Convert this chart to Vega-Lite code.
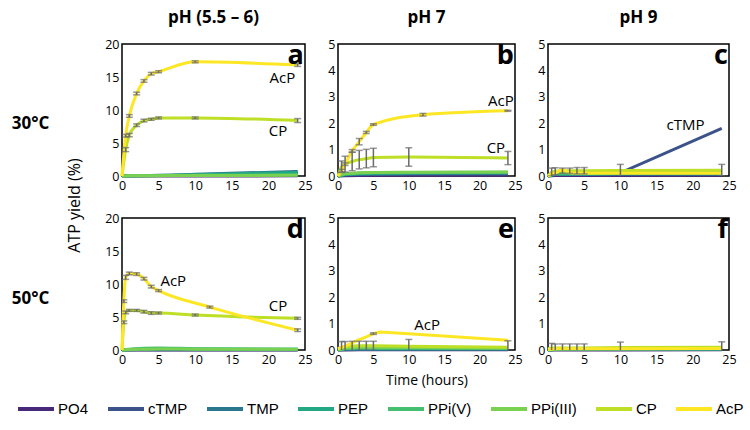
{
"$schema":"https://vega.github.io/schema/vega-lite/v6.json",
"padding":{"left":10,"top":8,"right":5,"bottom":5},
"config":{
 "font":"Open Sans",
 "view":{"stroke":"#000","strokeWidth":1.5},
 "axis":{"grid":false,"ticks":false,"domain":false,"labelFontSize":12.5,"labelColor":"#000","labelPadding":3,"titleFontSize":14,"titleFontWeight":"normal","titleColor":"#000","labelFlush":false},
 "title":{"fontSize":17,"fontWeight":"bold","color":"#000","offset":11,"frame":"group","anchor":"middle"},
 "legend":{"orient":"none","legendX":-106,"legendY":345,"direction":"horizontal","gridAlign":"none","symbolType":"stroke","symbolStrokeWidth":4,"symbolSize":1296,"labelFont":"Liberation Sans","labelFontSize":15,"labelColor":"#000","columnPadding":11,"labelOffset":2}
},
"datasets":{
"series":[
{"p":"a","s":"PO4","t":0,"v":0},{"p":"a","s":"PO4","t":1,"v":0},{"p":"a","s":"PO4","t":3,"v":0},{"p":"a","s":"PO4","t":5,"v":0},{"p":"a","s":"PO4","t":10,"v":0.01},{"p":"a","s":"PO4","t":24,"v":0.02},
{"p":"a","s":"cTMP","t":0,"v":0},{"p":"a","s":"cTMP","t":1,"v":0.02},{"p":"a","s":"cTMP","t":3,"v":0.05},{"p":"a","s":"cTMP","t":5,"v":0.07},{"p":"a","s":"cTMP","t":10,"v":0.15},{"p":"a","s":"cTMP","t":24,"v":0.35},
{"p":"a","s":"TMP","t":0,"v":0},{"p":"a","s":"TMP","t":1,"v":0.03},{"p":"a","s":"TMP","t":3,"v":0.07},{"p":"a","s":"TMP","t":5,"v":0.1},{"p":"a","s":"TMP","t":10,"v":0.25},{"p":"a","s":"TMP","t":24,"v":0.7},
{"p":"a","s":"PEP","t":0,"v":0},{"p":"a","s":"PEP","t":1,"v":0.03},{"p":"a","s":"PEP","t":3,"v":0.06},{"p":"a","s":"PEP","t":5,"v":0.09},{"p":"a","s":"PEP","t":10,"v":0.2},{"p":"a","s":"PEP","t":24,"v":0.55},
{"p":"a","s":"PPi(V)","t":0,"v":0},{"p":"a","s":"PPi(V)","t":1,"v":0.02},{"p":"a","s":"PPi(V)","t":3,"v":0.04},{"p":"a","s":"PPi(V)","t":5,"v":0.06},{"p":"a","s":"PPi(V)","t":10,"v":0.1},{"p":"a","s":"PPi(V)","t":24,"v":0.2},
{"p":"a","s":"PPi(III)","t":0,"v":0},{"p":"a","s":"PPi(III)","t":1,"v":0.02},{"p":"a","s":"PPi(III)","t":3,"v":0.04},{"p":"a","s":"PPi(III)","t":5,"v":0.05},{"p":"a","s":"PPi(III)","t":10,"v":0.08},{"p":"a","s":"PPi(III)","t":24,"v":0.1},
{"p":"a","s":"CP","t":0,"v":0,"e":0},{"p":"a","s":"CP","t":0.5,"v":4.0,"e":0.3},{"p":"a","s":"CP","t":1,"v":6.2,"e":0.25},{"p":"a","s":"CP","t":2,"v":7.7,"e":0.2},{"p":"a","s":"CP","t":3,"v":8.4,"e":0.2},{"p":"a","s":"CP","t":4,"v":8.6,"e":0.15},{"p":"a","s":"CP","t":5,"v":8.8,"e":0.15},{"p":"a","s":"CP","t":10,"v":8.8,"e":0.15},{"p":"a","s":"CP","t":24,"v":8.4,"e":0.3},
{"p":"a","s":"AcP","t":0,"v":0,"e":0},{"p":"a","s":"AcP","t":0.5,"v":6.1,"e":0.2},{"p":"a","s":"AcP","t":1,"v":9.1,"e":0.2},{"p":"a","s":"AcP","t":2,"v":12.5,"e":0.2},{"p":"a","s":"AcP","t":3,"v":14.4,"e":0.2},{"p":"a","s":"AcP","t":4,"v":15.5,"e":0.2},{"p":"a","s":"AcP","t":5,"v":15.8,"e":0.15},{"p":"a","s":"AcP","t":10,"v":17.3,"e":0.15},{"p":"a","s":"AcP","t":24,"v":16.8,"e":0.2},

{"p":"b","s":"PO4","t":0,"v":0},{"p":"b","s":"PO4","t":1,"v":0.01},{"p":"b","s":"PO4","t":3,"v":0.02},{"p":"b","s":"PO4","t":5,"v":0.02},{"p":"b","s":"PO4","t":10,"v":0.03},{"p":"b","s":"PO4","t":24,"v":0.03},
{"p":"b","s":"cTMP","t":0,"v":0},{"p":"b","s":"cTMP","t":1,"v":0.04},{"p":"b","s":"cTMP","t":3,"v":0.05},{"p":"b","s":"cTMP","t":5,"v":0.06},{"p":"b","s":"cTMP","t":10,"v":0.07},{"p":"b","s":"cTMP","t":24,"v":0.08},
{"p":"b","s":"TMP","t":0,"v":0},{"p":"b","s":"TMP","t":1,"v":0.05},{"p":"b","s":"TMP","t":3,"v":0.07},{"p":"b","s":"TMP","t":5,"v":0.08},{"p":"b","s":"TMP","t":10,"v":0.09},{"p":"b","s":"TMP","t":24,"v":0.1},
{"p":"b","s":"PEP","t":0,"v":0},{"p":"b","s":"PEP","t":1,"v":0.06},{"p":"b","s":"PEP","t":3,"v":0.09},{"p":"b","s":"PEP","t":5,"v":0.1},{"p":"b","s":"PEP","t":10,"v":0.11},{"p":"b","s":"PEP","t":24,"v":0.12},
{"p":"b","s":"PPi(V)","t":0,"v":0},{"p":"b","s":"PPi(V)","t":1,"v":0.08},{"p":"b","s":"PPi(V)","t":3,"v":0.11},{"p":"b","s":"PPi(V)","t":5,"v":0.12},{"p":"b","s":"PPi(V)","t":10,"v":0.13},{"p":"b","s":"PPi(V)","t":24,"v":0.14},
{"p":"b","s":"PPi(III)","t":0,"v":0},{"p":"b","s":"PPi(III)","t":1,"v":0.09},{"p":"b","s":"PPi(III)","t":3,"v":0.12},{"p":"b","s":"PPi(III)","t":5,"v":0.13},{"p":"b","s":"PPi(III)","t":10,"v":0.14},{"p":"b","s":"PPi(III)","t":24,"v":0.15},
{"p":"b","s":"CP","t":0,"v":0,"e":0},{"p":"b","s":"CP","t":0.5,"v":0.35,"e":0.22},{"p":"b","s":"CP","t":1,"v":0.45,"e":0.3},{"p":"b","s":"CP","t":2,"v":0.55,"e":0.35},{"p":"b","s":"CP","t":3,"v":0.62,"e":0.35},{"p":"b","s":"CP","t":4,"v":0.66,"e":0.35},{"p":"b","s":"CP","t":5,"v":0.7,"e":0.35},{"p":"b","s":"CP","t":10,"v":0.72,"e":0.35},{"p":"b","s":"CP","t":24,"v":0.68,"e":0.25},
{"p":"b","s":"AcP","t":0,"v":0,"e":0},{"p":"b","s":"AcP","t":0.5,"v":0.2,"e":0.05},{"p":"b","s":"AcP","t":1,"v":0.45,"e":0.05},{"p":"b","s":"AcP","t":2,"v":0.95,"e":0.05},{"p":"b","s":"AcP","t":3,"v":1.3,"e":0.12},{"p":"b","s":"AcP","t":4,"v":1.65,"e":0.04},{"p":"b","s":"AcP","t":5,"v":1.95,"e":0.03},{"p":"b","s":"AcP","t":12,"v":2.32,"e":0.05},{"p":"b","s":"AcP","t":24,"v":2.47,"e":0.02},

{"p":"c","s":"PO4","t":0,"v":0},{"p":"c","s":"PO4","t":1,"v":0.02},{"p":"c","s":"PO4","t":3,"v":0.02},{"p":"c","s":"PO4","t":5,"v":0.02},{"p":"c","s":"PO4","t":10,"v":0.02},{"p":"c","s":"PO4","t":24,"v":0.03},
{"p":"c","s":"cTMP","t":0,"v":0.05},{"p":"c","s":"cTMP","t":1,"v":0.12},{"p":"c","s":"cTMP","t":3,"v":0.1},{"p":"c","s":"cTMP","t":5,"v":0.1},{"p":"c","s":"cTMP","t":10,"v":0.12},{"p":"c","s":"cTMP","t":24,"v":1.8},
{"p":"c","s":"TMP","t":0,"v":0},{"p":"c","s":"TMP","t":1,"v":0.06},{"p":"c","s":"TMP","t":3,"v":0.06},{"p":"c","s":"TMP","t":5,"v":0.06},{"p":"c","s":"TMP","t":10,"v":0.07},{"p":"c","s":"TMP","t":24,"v":0.07},
{"p":"c","s":"PEP","t":0,"v":0},{"p":"c","s":"PEP","t":1,"v":0.07},{"p":"c","s":"PEP","t":3,"v":0.08},{"p":"c","s":"PEP","t":5,"v":0.08},{"p":"c","s":"PEP","t":10,"v":0.09},{"p":"c","s":"PEP","t":24,"v":0.1},
{"p":"c","s":"PPi(V)","t":0,"v":0},{"p":"c","s":"PPi(V)","t":1,"v":0.1},{"p":"c","s":"PPi(V)","t":3,"v":0.1},{"p":"c","s":"PPi(V)","t":5,"v":0.1},{"p":"c","s":"PPi(V)","t":10,"v":0.11},{"p":"c","s":"PPi(V)","t":24,"v":0.12},
{"p":"c","s":"PPi(III)","t":0,"v":0},{"p":"c","s":"PPi(III)","t":1,"v":0.12},{"p":"c","s":"PPi(III)","t":3,"v":0.13},{"p":"c","s":"PPi(III)","t":5,"v":0.13},{"p":"c","s":"PPi(III)","t":10,"v":0.14},{"p":"c","s":"PPi(III)","t":24,"v":0.15},
{"p":"c","s":"CP","t":0,"v":0,"e":0},{"p":"c","s":"CP","t":0.5,"v":0.15,"e":0.15},{"p":"c","s":"CP","t":1,"v":0.18,"e":0.13},{"p":"c","s":"CP","t":2,"v":0.2,"e":0.1},{"p":"c","s":"CP","t":3,"v":0.2,"e":0.1},{"p":"c","s":"CP","t":4,"v":0.2,"e":0.12},{"p":"c","s":"CP","t":5,"v":0.2,"e":0.12},{"p":"c","s":"CP","t":10,"v":0.21,"e":0.23},{"p":"c","s":"CP","t":24,"v":0.22,"e":0.22},
{"p":"c","s":"AcP","t":0,"v":0},{"p":"c","s":"AcP","t":0.5,"v":0.08},{"p":"c","s":"AcP","t":1,"v":0.12},{"p":"c","s":"AcP","t":2,"v":0.25},{"p":"c","s":"AcP","t":3,"v":0.12},{"p":"c","s":"AcP","t":4,"v":0.1},{"p":"c","s":"AcP","t":5,"v":0.1},{"p":"c","s":"AcP","t":10,"v":0.1},{"p":"c","s":"AcP","t":24,"v":0.1},

{"p":"d","s":"PO4","t":0,"v":0},{"p":"d","s":"PO4","t":1,"v":0},{"p":"d","s":"PO4","t":3,"v":0},{"p":"d","s":"PO4","t":5,"v":0},{"p":"d","s":"PO4","t":10,"v":0},{"p":"d","s":"PO4","t":24,"v":0},
{"p":"d","s":"cTMP","t":0,"v":0},{"p":"d","s":"cTMP","t":1,"v":0.03},{"p":"d","s":"cTMP","t":3,"v":0.05},{"p":"d","s":"cTMP","t":5,"v":0.05},{"p":"d","s":"cTMP","t":10,"v":0.05},{"p":"d","s":"cTMP","t":24,"v":0.05},
{"p":"d","s":"TMP","t":0,"v":0},{"p":"d","s":"TMP","t":1,"v":0.05},{"p":"d","s":"TMP","t":3,"v":0.1},{"p":"d","s":"TMP","t":5,"v":0.1},{"p":"d","s":"TMP","t":10,"v":0.08},{"p":"d","s":"TMP","t":24,"v":0.06},
{"p":"d","s":"PEP","t":0,"v":0},{"p":"d","s":"PEP","t":1,"v":0.08},{"p":"d","s":"PEP","t":3,"v":0.15},{"p":"d","s":"PEP","t":5,"v":0.2},{"p":"d","s":"PEP","t":10,"v":0.15},{"p":"d","s":"PEP","t":24,"v":0.1},
{"p":"d","s":"PPi(V)","t":0,"v":0},{"p":"d","s":"PPi(V)","t":1,"v":0.12},{"p":"d","s":"PPi(V)","t":3,"v":0.25},{"p":"d","s":"PPi(V)","t":5,"v":0.3},{"p":"d","s":"PPi(V)","t":10,"v":0.2},{"p":"d","s":"PPi(V)","t":24,"v":0.12},
{"p":"d","s":"PPi(III)","t":0,"v":0},{"p":"d","s":"PPi(III)","t":1,"v":0.08},{"p":"d","s":"PPi(III)","t":3,"v":0.12},{"p":"d","s":"PPi(III)","t":5,"v":0.15},{"p":"d","s":"PPi(III)","t":10,"v":0.12},{"p":"d","s":"PPi(III)","t":24,"v":0.1},
{"p":"d","s":"CP","t":0,"v":0,"e":0},{"p":"d","s":"CP","t":0.25,"v":4.2,"e":0.2},{"p":"d","s":"CP","t":0.5,"v":5.7,"e":0.2},{"p":"d","s":"CP","t":1,"v":6.0,"e":0.15},{"p":"d","s":"CP","t":2,"v":6.0,"e":0.15},{"p":"d","s":"CP","t":3,"v":5.8,"e":0.2},{"p":"d","s":"CP","t":4,"v":5.6,"e":0.2},{"p":"d","s":"CP","t":5,"v":5.6,"e":0.15},{"p":"d","s":"CP","t":10,"v":5.3,"e":0.15},{"p":"d","s":"CP","t":24,"v":4.8,"e":0.15},
{"p":"d","s":"AcP","t":0,"v":0,"e":0},{"p":"d","s":"AcP","t":0.25,"v":7.4,"e":0.2},{"p":"d","s":"AcP","t":0.5,"v":11.0,"e":0.3},{"p":"d","s":"AcP","t":1,"v":11.6,"e":0.2},{"p":"d","s":"AcP","t":2,"v":11.5,"e":0.2},{"p":"d","s":"AcP","t":3,"v":10.8,"e":0.2},{"p":"d","s":"AcP","t":4,"v":9.6,"e":0.2},{"p":"d","s":"AcP","t":5,"v":9.0,"e":0.15},{"p":"d","s":"AcP","t":12,"v":6.5,"e":0.15},{"p":"d","s":"AcP","t":24,"v":3.0,"e":0.2},

{"p":"e","s":"PO4","t":0,"v":0},{"p":"e","s":"PO4","t":1,"v":0},{"p":"e","s":"PO4","t":3,"v":0.01},{"p":"e","s":"PO4","t":5,"v":0.01},{"p":"e","s":"PO4","t":10,"v":0.01},{"p":"e","s":"PO4","t":24,"v":0.01},
{"p":"e","s":"cTMP","t":0,"v":0},{"p":"e","s":"cTMP","t":1,"v":0.03},{"p":"e","s":"cTMP","t":3,"v":0.03},{"p":"e","s":"cTMP","t":5,"v":0.03},{"p":"e","s":"cTMP","t":10,"v":0.03},{"p":"e","s":"cTMP","t":24,"v":0.03},
{"p":"e","s":"TMP","t":0,"v":0},{"p":"e","s":"TMP","t":1,"v":0.04},{"p":"e","s":"TMP","t":3,"v":0.04},{"p":"e","s":"TMP","t":5,"v":0.04},{"p":"e","s":"TMP","t":10,"v":0.04},{"p":"e","s":"TMP","t":24,"v":0.04},
{"p":"e","s":"PEP","t":0,"v":0},{"p":"e","s":"PEP","t":1,"v":0.05},{"p":"e","s":"PEP","t":3,"v":0.05},{"p":"e","s":"PEP","t":5,"v":0.05},{"p":"e","s":"PEP","t":10,"v":0.05},{"p":"e","s":"PEP","t":24,"v":0.05},
{"p":"e","s":"PPi(V)","t":0,"v":0},{"p":"e","s":"PPi(V)","t":1,"v":0.06},{"p":"e","s":"PPi(V)","t":3,"v":0.07},{"p":"e","s":"PPi(V)","t":5,"v":0.07},{"p":"e","s":"PPi(V)","t":10,"v":0.07},{"p":"e","s":"PPi(V)","t":24,"v":0.06},
{"p":"e","s":"PPi(III)","t":0,"v":0},{"p":"e","s":"PPi(III)","t":1,"v":0.08},{"p":"e","s":"PPi(III)","t":3,"v":0.1},{"p":"e","s":"PPi(III)","t":5,"v":0.1},{"p":"e","s":"PPi(III)","t":10,"v":0.09},{"p":"e","s":"PPi(III)","t":24,"v":0.08},
{"p":"e","s":"CP","t":0,"v":0.05,"e":0},{"p":"e","s":"CP","t":0.5,"v":0.1,"e":0.22},{"p":"e","s":"CP","t":1,"v":0.12,"e":0.2},{"p":"e","s":"CP","t":2,"v":0.15,"e":0.18},{"p":"e","s":"CP","t":3,"v":0.16,"e":0.17},{"p":"e","s":"CP","t":4,"v":0.16,"e":0.17},{"p":"e","s":"CP","t":5,"v":0.16,"e":0.17},{"p":"e","s":"CP","t":10,"v":0.14,"e":0.26},{"p":"e","s":"CP","t":24,"v":0.1,"e":0.25},
{"p":"e","s":"AcP","t":0,"v":0.05},{"p":"e","s":"AcP","t":1,"v":0.15},{"p":"e","s":"AcP","t":2,"v":0.27},{"p":"e","s":"AcP","t":3,"v":0.39},{"p":"e","s":"AcP","t":4,"v":0.5},{"p":"e","s":"AcP","t":5,"v":0.62,"e":0.03},{"p":"e","s":"AcP","t":6,"v":0.68},{"p":"e","s":"AcP","t":10,"v":0.62},{"p":"e","s":"AcP","t":24,"v":0.37},

{"p":"f","s":"PO4","t":0,"v":0},{"p":"f","s":"PO4","t":1,"v":0},{"p":"f","s":"PO4","t":3,"v":0},{"p":"f","s":"PO4","t":5,"v":0},{"p":"f","s":"PO4","t":10,"v":0},{"p":"f","s":"PO4","t":24,"v":0.01},
{"p":"f","s":"cTMP","t":0,"v":0},{"p":"f","s":"cTMP","t":1,"v":0.02},{"p":"f","s":"cTMP","t":3,"v":0.02},{"p":"f","s":"cTMP","t":5,"v":0.02},{"p":"f","s":"cTMP","t":10,"v":0.02},{"p":"f","s":"cTMP","t":24,"v":0.02},
{"p":"f","s":"TMP","t":0,"v":0},{"p":"f","s":"TMP","t":1,"v":0.03},{"p":"f","s":"TMP","t":3,"v":0.03},{"p":"f","s":"TMP","t":5,"v":0.03},{"p":"f","s":"TMP","t":10,"v":0.03},{"p":"f","s":"TMP","t":24,"v":0.03},
{"p":"f","s":"PEP","t":0,"v":0},{"p":"f","s":"PEP","t":1,"v":0.03},{"p":"f","s":"PEP","t":3,"v":0.04},{"p":"f","s":"PEP","t":5,"v":0.04},{"p":"f","s":"PEP","t":10,"v":0.04},{"p":"f","s":"PEP","t":24,"v":0.04},
{"p":"f","s":"PPi(V)","t":0,"v":0},{"p":"f","s":"PPi(V)","t":1,"v":0.04},{"p":"f","s":"PPi(V)","t":3,"v":0.05},{"p":"f","s":"PPi(V)","t":5,"v":0.05},{"p":"f","s":"PPi(V)","t":10,"v":0.05},{"p":"f","s":"PPi(V)","t":24,"v":0.05},
{"p":"f","s":"PPi(III)","t":0,"v":0},{"p":"f","s":"PPi(III)","t":1,"v":0.05},{"p":"f","s":"PPi(III)","t":3,"v":0.06},{"p":"f","s":"PPi(III)","t":5,"v":0.06},{"p":"f","s":"PPi(III)","t":10,"v":0.06},{"p":"f","s":"PPi(III)","t":24,"v":0.06},
{"p":"f","s":"CP","t":0,"v":0.05,"e":0},{"p":"f","s":"CP","t":0.5,"v":0.08,"e":0.17},{"p":"f","s":"CP","t":1,"v":0.08,"e":0.15},{"p":"f","s":"CP","t":2,"v":0.08,"e":0.15},{"p":"f","s":"CP","t":3,"v":0.08,"e":0.15},{"p":"f","s":"CP","t":4,"v":0.08,"e":0.15},{"p":"f","s":"CP","t":5,"v":0.08,"e":0.15},{"p":"f","s":"CP","t":10,"v":0.09,"e":0.21},{"p":"f","s":"CP","t":24,"v":0.1,"e":0.21},
{"p":"f","s":"AcP","t":0,"v":0.02},{"p":"f","s":"AcP","t":0.5,"v":0.04},{"p":"f","s":"AcP","t":1,"v":0.05},{"p":"f","s":"AcP","t":2,"v":0.05},{"p":"f","s":"AcP","t":3,"v":0.05},{"p":"f","s":"AcP","t":4,"v":0.05},{"p":"f","s":"AcP","t":5,"v":0.05},{"p":"f","s":"AcP","t":10,"v":0.05},{"p":"f","s":"AcP","t":24,"v":0.06}
],
"notes":[
{"p":"a","k":"lab","txt":"AcP","t":21.9,"v":14.8},{"p":"a","k":"lab","txt":"CP","t":21.3,"v":6.8},
{"p":"b","k":"lab","txt":"AcP","t":23.0,"v":2.84},{"p":"b","k":"lab","txt":"CP","t":22.3,"v":1.06},
{"p":"c","k":"lab","txt":"cTMP","t":19.0,"v":1.93},
{"p":"d","k":"lab","txt":"AcP","t":7.0,"v":10.45},{"p":"d","k":"lab","txt":"CP","t":21.3,"v":6.7},
{"p":"e","k":"lab","txt":"AcP","t":12.6,"v":0.95},
{"p":"a","k":"let","txt":"a","t":24.85,"v":16.97},{"p":"b","k":"let","txt":"b","t":24.85,"v":4.24},{"p":"c","k":"let","txt":"c","t":24.85,"v":4.24},
{"p":"d","k":"let","txt":"d","t":24.85,"v":16.97},{"p":"e","k":"let","txt":"e","t":24.85,"v":4.24},{"p":"f","k":"let","txt":"f","t":24.85,"v":4.24}
]
},
"columns":3,
"align":"each",
"bounds":"flush",
"spacing":{"row":42,"column":33},
"resolve":{"scale":{"color":"shared"},"legend":{"color":"shared"}},
"concat":[
{"width":183,"height":132,"title":"pH (5.5 – 6)",
 "encoding":{"x":{"field":"t","type":"quantitative","scale":{"domain":[0,25],"nice":false},"axis":{"values":[0,5,10,15,20,25],"title":null}}},
 "layer":[
  {"data":{"name":"series"},"transform":[{"filter":"datum.p==='a'"}],
   "mark":{"type":"line","interpolate":"monotone","strokeWidth":3},
   "encoding":{
    "y":{"field":"v","type":"quantitative","scale":{"domain":[0,20],"nice":false},"axis":{"orient":"left","values":[0,5,10,15,20],"title":"ATP yield (%)","titleFontSize":16,"titleX":-40,"titleY":161}},
    "color":{"field":"s","type":"nominal","scale":{"domain":["PO4","cTMP","TMP","PEP","PPi(V)","PPi(III)","CP","AcP"],"range":["#482878","#3b528b","#2a788e","#22a884","#44bf70","#7ad151","#bddf26","#fde725"]},"legend":{"title":null}}}},
  {"data":{"name":"series"},"transform":[{"filter":"datum.p==='a' && datum.e>0"}],
   "mark":{"type":"errorbar","ticks":{"size":7},"thickness":1.5,"color":"#6b6b6b","clip":true},
   "encoding":{"y":{"field":"v","type":"quantitative","axis":null},"yError":{"field":"e"}}},
  {"data":{"name":"notes"},"transform":[{"filter":"datum.p==='a' && datum.k==='lab'"}],
   "mark":{"type":"text","fontSize":15,"color":"#000"},
   "encoding":{"y":{"field":"v","type":"quantitative","axis":{"orient":"right","labels":false,"title":"30°C","titleAngle":0,"titleX":-275,"titleY":79,"titleAlign":"center","titleBaseline":"middle","titleFontSize":17,"titleFontWeight":"bold"}},"text":{"field":"txt"}}},
  {"data":{"name":"notes"},"transform":[{"filter":"datum.p==='a' && datum.k==='let'"}],
   "mark":{"type":"text","fontSize":27,"fontWeight":"bold","align":"right","baseline":"alphabetic","color":"#000"},
   "encoding":{"y":{"field":"v","type":"quantitative","axis":null},"text":{"field":"txt"}}}
 ]},
{"width":177,"height":132,"title":"pH 7",
 "encoding":{
  "x":{"field":"t","type":"quantitative","scale":{"domain":[0,25],"nice":false},"axis":{"values":[0,5,10,15,20,25],"title":null}},
  "y":{"field":"v","type":"quantitative","scale":{"domain":[0,5],"nice":false},"axis":{"values":[0,1,2,3,4,5],"title":null}}},
 "layer":[
  {"data":{"name":"series"},"transform":[{"filter":"datum.p==='b'"}],
   "mark":{"type":"line","interpolate":"monotone","strokeWidth":3},
   "encoding":{"color":{"field":"s","type":"nominal","scale":{"domain":["PO4","cTMP","TMP","PEP","PPi(V)","PPi(III)","CP","AcP"],"range":["#482878","#3b528b","#2a788e","#22a884","#44bf70","#7ad151","#bddf26","#fde725"]},"legend":{"title":null}}}},
  {"data":{"name":"series"},"transform":[{"filter":"datum.p==='b' && datum.e>0"}],
   "mark":{"type":"errorbar","ticks":{"size":7},"thickness":1.5,"color":"#6b6b6b","clip":true},
   "encoding":{"yError":{"field":"e"}}},
  {"data":{"name":"notes"},"transform":[{"filter":"datum.p==='b' && datum.k==='lab'"}],
   "mark":{"type":"text","fontSize":15,"color":"#000"},
   "encoding":{"text":{"field":"txt"}}},
  {"data":{"name":"notes"},"transform":[{"filter":"datum.p==='b' && datum.k==='let'"}],
   "mark":{"type":"text","fontSize":27,"fontWeight":"bold","align":"right","baseline":"alphabetic","color":"#000"},
   "encoding":{"text":{"field":"txt"}}}
 ]},
{"width":181,"height":132,"title":"pH 9",
 "encoding":{
  "x":{"field":"t","type":"quantitative","scale":{"domain":[0,25],"nice":false},"axis":{"values":[0,5,10,15,20,25],"title":null}},
  "y":{"field":"v","type":"quantitative","scale":{"domain":[0,5],"nice":false},"axis":{"values":[0,1,2,3,4,5],"title":null}}},
 "layer":[
  {"data":{"name":"series"},"transform":[{"filter":"datum.p==='c'"}],
   "mark":{"type":"line","interpolate":"linear","strokeWidth":3},
   "encoding":{"color":{"field":"s","type":"nominal","scale":{"domain":["PO4","cTMP","TMP","PEP","PPi(V)","PPi(III)","CP","AcP"],"range":["#482878","#3b528b","#2a788e","#22a884","#44bf70","#7ad151","#bddf26","#fde725"]},"legend":{"title":null}}}},
  {"data":{"name":"series"},"transform":[{"filter":"datum.p==='c' && datum.e>0"}],
   "mark":{"type":"errorbar","ticks":{"size":7},"thickness":1.5,"color":"#6b6b6b","clip":true},
   "encoding":{"yError":{"field":"e"}}},
  {"data":{"name":"notes"},"transform":[{"filter":"datum.p==='c' && datum.k==='lab'"}],
   "mark":{"type":"text","fontSize":15,"color":"#000"},
   "encoding":{"text":{"field":"txt"}}},
  {"data":{"name":"notes"},"transform":[{"filter":"datum.p==='c' && datum.k==='let'"}],
   "mark":{"type":"text","fontSize":27,"fontWeight":"bold","align":"right","baseline":"alphabetic","color":"#000"},
   "encoding":{"text":{"field":"txt"}}}
 ]},
{"width":183,"height":132,
 "encoding":{
  "x":{"field":"t","type":"quantitative","scale":{"domain":[0,25],"nice":false},"axis":{"values":[0,5,10,15,20,25],"title":null}},
  "y":{"field":"v","type":"quantitative","scale":{"domain":[0,20],"nice":false},"axis":{"values":[0,5,10,15,20],"title":"50°C","titleAngle":0,"titleX":-92,"titleY":80,"titleAlign":"center","titleBaseline":"middle","titleFontSize":17,"titleFontWeight":"bold"}}},
 "layer":[
  {"data":{"name":"series"},"transform":[{"filter":"datum.p==='d'"}],
   "mark":{"type":"line","interpolate":"monotone","strokeWidth":3},
   "encoding":{"color":{"field":"s","type":"nominal","scale":{"domain":["PO4","cTMP","TMP","PEP","PPi(V)","PPi(III)","CP","AcP"],"range":["#482878","#3b528b","#2a788e","#22a884","#44bf70","#7ad151","#bddf26","#fde725"]},"legend":{"title":null}}}},
  {"data":{"name":"series"},"transform":[{"filter":"datum.p==='d' && datum.e>0"}],
   "mark":{"type":"errorbar","ticks":{"size":7},"thickness":1.5,"color":"#6b6b6b","clip":true},
   "encoding":{"yError":{"field":"e"}}},
  {"data":{"name":"notes"},"transform":[{"filter":"datum.p==='d' && datum.k==='lab'"}],
   "mark":{"type":"text","fontSize":15,"color":"#000"},
   "encoding":{"text":{"field":"txt"}}},
  {"data":{"name":"notes"},"transform":[{"filter":"datum.p==='d' && datum.k==='let'"}],
   "mark":{"type":"text","fontSize":27,"fontWeight":"bold","align":"right","baseline":"alphabetic","color":"#000"},
   "encoding":{"text":{"field":"txt"}}}
 ]},
{"width":177,"height":132,
 "encoding":{
  "x":{"field":"t","type":"quantitative","scale":{"domain":[0,25],"nice":false},"axis":{"values":[0,5,10,15,20,25],"title":"Time (hours)","titlePadding":8}},
  "y":{"field":"v","type":"quantitative","scale":{"domain":[0,5],"nice":false},"axis":{"values":[0,1,2,3,4,5],"title":null}}},
 "layer":[
  {"data":{"name":"series"},"transform":[{"filter":"datum.p==='e'"}],
   "mark":{"type":"line","interpolate":"linear","strokeWidth":3},
   "encoding":{"color":{"field":"s","type":"nominal","scale":{"domain":["PO4","cTMP","TMP","PEP","PPi(V)","PPi(III)","CP","AcP"],"range":["#482878","#3b528b","#2a788e","#22a884","#44bf70","#7ad151","#bddf26","#fde725"]},"legend":{"title":null}}}},
  {"data":{"name":"series"},"transform":[{"filter":"datum.p==='e' && datum.e>0"}],
   "mark":{"type":"errorbar","ticks":{"size":7},"thickness":1.5,"color":"#6b6b6b","clip":true},
   "encoding":{"yError":{"field":"e"}}},
  {"data":{"name":"notes"},"transform":[{"filter":"datum.p==='e' && datum.k==='lab'"}],
   "mark":{"type":"text","fontSize":15,"color":"#000"},
   "encoding":{"text":{"field":"txt"}}},
  {"data":{"name":"notes"},"transform":[{"filter":"datum.p==='e' && datum.k==='let'"}],
   "mark":{"type":"text","fontSize":27,"fontWeight":"bold","align":"right","baseline":"alphabetic","color":"#000"},
   "encoding":{"text":{"field":"txt"}}}
 ]},
{"width":181,"height":132,
 "encoding":{
  "x":{"field":"t","type":"quantitative","scale":{"domain":[0,25],"nice":false},"axis":{"values":[0,5,10,15,20,25],"title":null}},
  "y":{"field":"v","type":"quantitative","scale":{"domain":[0,5],"nice":false},"axis":{"values":[0,1,2,3,4,5],"title":null}}},
 "layer":[
  {"data":{"name":"series"},"transform":[{"filter":"datum.p==='f'"}],
   "mark":{"type":"line","interpolate":"linear","strokeWidth":3},
   "encoding":{"color":{"field":"s","type":"nominal","scale":{"domain":["PO4","cTMP","TMP","PEP","PPi(V)","PPi(III)","CP","AcP"],"range":["#482878","#3b528b","#2a788e","#22a884","#44bf70","#7ad151","#bddf26","#fde725"]},"legend":{"title":null}}}},
  {"data":{"name":"series"},"transform":[{"filter":"datum.p==='f' && datum.e>0"}],
   "mark":{"type":"errorbar","ticks":{"size":7},"thickness":1.5,"color":"#6b6b6b","clip":true},
   "encoding":{"yError":{"field":"e"}}},
  {"data":{"name":"notes"},"transform":[{"filter":"datum.p==='f' && datum.k==='let'"}],
   "mark":{"type":"text","fontSize":27,"fontWeight":"bold","align":"right","baseline":"alphabetic","color":"#000"},
   "encoding":{"text":{"field":"txt"}}}
 ]}
]
}
